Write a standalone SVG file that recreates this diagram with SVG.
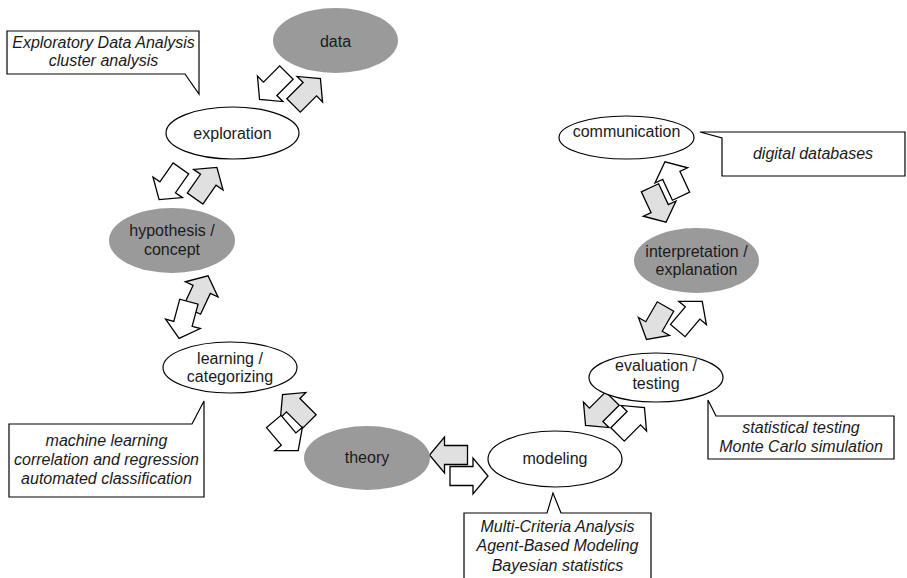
<svg xmlns="http://www.w3.org/2000/svg" xmlns:xlink="http://www.w3.org/1999/xlink" width="907" height="578" viewBox="0 0 907 578">
<style>
.dark{fill:#9a9a9a;stroke:none}
.light{fill:#fff;stroke:#000;stroke-width:1.2}
.lbl{font-family:"Liberation Sans",Arial,sans-serif;font-size:16px;fill:#1a1a1a;text-anchor:middle}
.note{font-family:"Liberation Sans",Arial,sans-serif;font-size:16px;font-style:italic;fill:#1a1a1a;text-anchor:middle}
.box{fill:#fff;stroke:#000;stroke-width:1.2}
.aw{fill:#fff;stroke:#000;stroke-width:1.3;stroke-linejoin:miter}
.ag{fill:#e0e0e0;stroke:#000;stroke-width:1.3;stroke-linejoin:miter}
</style>
<defs>
<path id="arr" d="M-19,-9.5 H4 V-18 L19,0 L4,18 V9.5 H-19 Z"/>
</defs>
<rect width="907" height="578" fill="#fff"/>

<g id="connectors">
<use xlink:href="#arr" class="aw" transform="translate(273,86) rotate(135)"/>
<use xlink:href="#arr" class="ag" transform="translate(307,92) rotate(-45)"/>
<use xlink:href="#arr" class="aw" transform="translate(170,184) rotate(125)"/>
<use xlink:href="#arr" class="ag" transform="translate(206,183) rotate(-55)"/>
<use xlink:href="#arr" class="ag" transform="translate(200,293) rotate(-65)"/>
<use xlink:href="#arr" class="aw" transform="translate(184,320) rotate(105)"/>
<use xlink:href="#arr" class="ag" transform="translate(296,408) rotate(-135)"/>
<use xlink:href="#arr" class="aw" transform="translate(286,436) rotate(50)"/>
<use xlink:href="#arr" class="ag" transform="translate(448.5,455) rotate(180)"/>
<use xlink:href="#arr" class="aw" transform="translate(469,476)"/>
<use xlink:href="#arr" class="ag" transform="translate(599,412) rotate(135)"/>
<use xlink:href="#arr" class="aw" transform="translate(631,421) rotate(-45)"/>
<use xlink:href="#arr" class="ag" transform="translate(656,323) rotate(120)"/>
<use xlink:href="#arr" class="aw" transform="translate(690,316) rotate(-50)"/>
<use xlink:href="#arr" class="aw" transform="translate(673,179) rotate(-115)"/>
<use xlink:href="#arr" class="ag" transform="translate(658,205) rotate(65)"/>
</g>

<g id="data">
<ellipse class="dark" cx="335.5" cy="40.5" rx="62.5" ry="32.5"/>
<text class="lbl" x="335.5" y="46.5">data</text>
</g>
<g id="exploration">
<ellipse class="light" cx="232.5" cy="133" rx="66.5" ry="26"/>
<text class="lbl" x="232.5" y="138.5">exploration</text>
</g>
<g id="hypothesis">
<ellipse class="dark" cx="172" cy="240.5" rx="63" ry="32.5"/>
<text class="lbl" x="172" y="236">hypothesis /</text>
<text class="lbl" x="172" y="254.5">concept</text>
</g>
<g id="learning">
<ellipse class="light" cx="230" cy="367.5" rx="67" ry="25.5"/>
<text class="lbl" x="230" y="363.5">learning /</text>
<text class="lbl" x="230" y="382">categorizing</text>
</g>
<g id="theory">
<ellipse class="dark" cx="367" cy="458" rx="63" ry="32"/>
<text class="lbl" x="367" y="463">theory</text>
</g>
<g id="modeling">
<ellipse class="light" cx="555" cy="459" rx="67" ry="28"/>
<text class="lbl" x="555" y="463.5">modeling</text>
</g>
<g id="evaluation">
<ellipse class="light" cx="656" cy="377.5" rx="67" ry="24.5"/>
<text class="lbl" x="656" y="370.5">evaluation /</text>
<text class="lbl" x="656" y="389">testing</text>
</g>
<g id="interpretation">
<ellipse class="dark" cx="696.5" cy="260.5" rx="62.5" ry="32.5"/>
<text class="lbl" x="696.5" y="256.5">interpretation /</text>
<text class="lbl" x="696.5" y="275">explanation</text>
</g>
<g id="communication">
<ellipse class="light" cx="626.5" cy="137.5" rx="67.5" ry="21.5"/>
<text class="lbl" x="626.5" y="137">communication</text>
</g>

<g id="note-eda">
<path class="box" d="M7,31 H199 V94 L185,74 H7 Z"/>
<text class="note" x="103.5" y="47.5">Exploratory Data Analysis</text>
<text class="note" x="103.5" y="65.5">cluster analysis</text>
</g>
<g id="note-ml">
<path class="box" d="M9,424 H192 L204,401 V497 H9 Z"/>
<text class="note" x="106.5" y="446">machine learning</text>
<text class="note" x="106.5" y="465">correlation and regression</text>
<text class="note" x="106.5" y="484">automated classification</text>
</g>
<g id="note-mca">
<path class="box" d="M464,513 H547 L553,493 L561,513 H651 V592 H464 Z"/>
<text class="note" x="557.5" y="531.5">Multi-Criteria Analysis</text>
<text class="note" x="557.5" y="551">Agent-Based Modeling</text>
<text class="note" x="557.5" y="570.5">Bayesian statistics</text>
</g>
<g id="note-stat">
<path class="box" d="M708,400 L716,416 H894 V459 H708 Z"/>
<text class="note" x="801" y="432.5">statistical testing</text>
<text class="note" x="801" y="451.5">Monte Carlo simulation</text>
</g>
<g id="note-db">
<path class="box" d="M700,132 H905 V176 H722 V138 Z"/>
<text class="note" x="813" y="158.5">digital databases</text>
</g>
</svg>
